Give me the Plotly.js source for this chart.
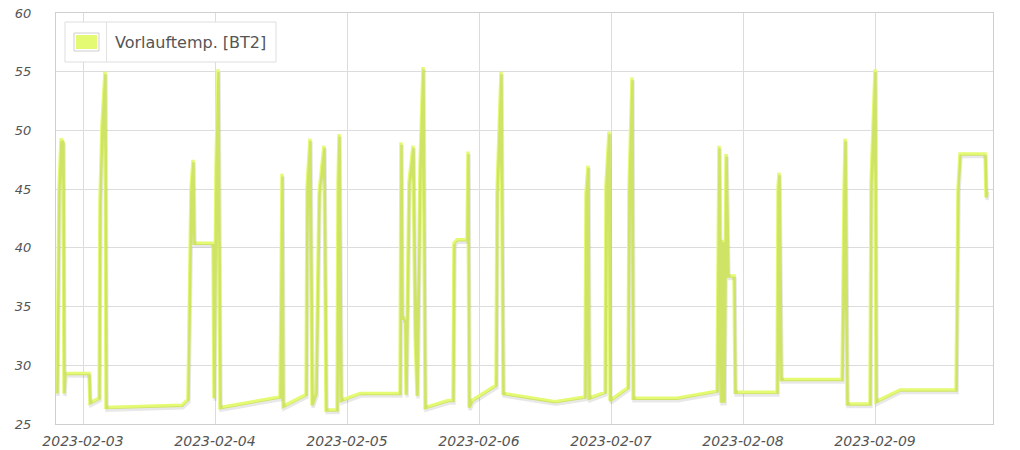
<!DOCTYPE html>
<html>
<head>
<meta charset="utf-8">
<script src="https://cdn.plot.ly/plotly-3.0.1.min.js"></script>
<style>html,body{margin:0;padding:0;background:#fff;}#chart{width:1020px;height:450px;}</style>
</head>
<body>
<div id="chart"></div>
<script>
const seriesName = "Vorlauftemp. [BT2]";
const times = [
"2023-02-02 19:16","2023-02-02 19:38","2023-02-02 20:00","2023-02-02 20:22","2023-02-02 20:33","2023-02-02 20:44",
"2023-02-03 01:05","2023-02-03 01:16","2023-02-03 02:55","2023-02-03 03:05","2023-02-03 03:27","2023-02-03 04:00",
"2023-02-03 04:11","2023-02-03 18:00","2023-02-03 19:05","2023-02-03 19:38","2023-02-03 20:00","2023-02-03 20:11",
"2023-02-03 23:38","2023-02-03 23:49","2023-02-04 00:11","2023-02-04 00:33","2023-02-04 00:55","2023-02-04 11:49",
"2023-02-04 12:00","2023-02-04 12:11","2023-02-04 12:22","2023-02-04 16:33","2023-02-04 16:44","2023-02-04 17:16",
"2023-02-04 17:38","2023-02-04 18:22","2023-02-04 18:55","2023-02-04 19:49","2023-02-04 20:11","2023-02-04 22:11",
"2023-02-04 22:22","2023-02-04 22:33","2023-02-04 22:55","2023-02-05 02:22","2023-02-05 09:38","2023-02-05 09:49",
"2023-02-05 10:00","2023-02-05 10:33","2023-02-05 10:44","2023-02-05 11:16","2023-02-05 12:00","2023-02-05 12:22",
"2023-02-05 12:44","2023-02-05 13:16","2023-02-05 13:49","2023-02-05 14:11","2023-02-05 18:22","2023-02-05 19:16",
"2023-02-05 19:27","2023-02-05 20:00","2023-02-05 21:49","2023-02-05 22:00","2023-02-05 22:11","2023-02-05 22:44",
"2023-02-06 03:05","2023-02-06 03:16","2023-02-06 04:00","2023-02-06 04:22","2023-02-06 13:49","2023-02-06 19:16",
"2023-02-06 19:27","2023-02-06 19:49","2023-02-06 20:00","2023-02-06 22:55","2023-02-06 23:05","2023-02-06 23:38",
"2023-02-06 23:49","2023-02-07 03:05","2023-02-07 03:16","2023-02-07 03:49","2023-02-07 04:00","2023-02-07 12:00",
"2023-02-07 19:16","2023-02-07 19:27","2023-02-07 19:38","2023-02-07 20:00","2023-02-07 20:22","2023-02-07 20:33",
"2023-02-07 20:55","2023-02-07 21:16","2023-02-07 22:22","2023-02-07 22:33","2023-02-08 06:11","2023-02-08 06:22",
"2023-02-08 06:33","2023-02-08 06:55","2023-02-08 18:00","2023-02-08 18:22","2023-02-08 18:33","2023-02-08 18:55",
"2023-02-08 23:05","2023-02-08 23:16","2023-02-09 00:00","2023-02-09 00:11","2023-02-09 04:33","2023-02-09 14:44",
"2023-02-09 14:55","2023-02-09 15:05","2023-02-09 15:27","2023-02-09 20:00","2023-02-09 20:11","2023-02-09 20:22"
];
const temps = [
27.6,45,49.3,49.0,27.6,29.3,
29.3,26.8,27.2,44,50.5,55.0,
26.4,26.6,27.1,45,47.5,40.4,
40.4,27.2,47,55.2,26.4,27.3,
36.7,46.3,26.5,27.5,45.2,49.3,
26.6,27.6,44.7,48.7,26.2,26.2,
45.6,49.7,27.0,27.6,27.6,49.0,
34.0,34.0,27.5,45.6,48.7,32.8,
27.4,47,55.4,26.4,27.0,27.0,
40.4,40.7,40.7,48.2,26.4,27.0,
28.3,44.7,55.0,27.6,26.9,27.3,
44.7,47.0,27.2,27.7,45.4,49.9,
27.0,28.1,45,54.5,27.2,27.2,
27.8,44.7,48.7,26.8,40.7,26.8,
48.0,37.6,37.6,27.7,27.7,45.2,
46.4,28.8,28.8,45,49.3,26.7,
26.7,45.5,55.2,26.9,27.9,27.9,
34.5,45,48.0,48.0,44.3,44.8
];
const yTicks = [25,30,35,40,45,50,55,60];
const xRange = ["2023-02-02 19:05:30","2023-02-09 21:27:00"];
const xRangeShadow = ["2023-02-02 18:54:35","2023-02-09 21:16:05"];
const yRange = [25,60];
const yRangeShadow = [25.22,60.22];

const lineColor = "#e4fa72";
const tickFont = {family:"DejaVu Sans", size:13, color:"#555", style:"italic"};

const traces = [
  {x:times, y:temps, type:"scatter", mode:"lines", xaxis:"x2", yaxis:"y2",
   line:{color:"rgba(0,0,0,0.09)", width:3.5}, hoverinfo:"skip", showlegend:false},
  {x:times, y:temps, type:"scatter", mode:"lines", name:seriesName,
   line:{color:lineColor, width:3.5}, showlegend:false}
];

const L = {x0:0.0096, x1:0.2348, y0:0.8808, y1:0.9781};
const shapes = [
  {type:"rect", xref:"paper", yref:"paper", x0:L.x0, x1:L.x1, y0:L.y0, y1:L.y1,
   fillcolor:"#fff", line:{color:"#dedede", width:1}, layer:"above"},
  {type:"line", xref:"paper", yref:"paper", x0:0.0539, x1:0.0539, y0:L.y0, y1:L.y1,
   line:{color:"#e2e2e2", width:1}, layer:"above"},
  {type:"rect", xref:"paper", yref:"paper", x0:0.0192, x1:0.0459, y0:0.9075, y1:0.9513,
   fillcolor:"#fff", line:{color:"#cfcfcf", width:1}, layer:"above"},
  {type:"rect", xref:"paper", yref:"paper", x0:0.0213, x1:0.0437, y0:0.9124, y1:0.9465,
   fillcolor:lineColor, line:{width:0}, layer:"above"}
];
const annotations = [
  {xref:"paper", yref:"paper", x:0.0608, y:0.9294, xanchor:"left", yanchor:"middle",
   text:seriesName, showarrow:false, font:{family:"DejaVu Sans", size:16, color:"#555"}}
];

const layout = {
  width:1020, height:450,
  margin:{l:56, r:27, t:13, b:26, pad:0},
  paper_bgcolor:"#fff", plot_bgcolor:"#fff",
  showlegend:false,
  xaxis:{type:"date", range:xRange, tickformat:"%Y-%m-%d", dtick:86400000, tick0:"2023-02-03",
    showgrid:true, gridcolor:"#dcdcdc", gridwidth:1, showline:true, mirror:true, linecolor:"#cfcfcf",
    zeroline:false, ticks:"outside", ticklen:4, tickcolor:"rgba(0,0,0,0)",
    tickfont:{family:"DejaVu Sans", size:14, color:"#555", style:"italic"}},
  yaxis:{range:yRange, tickvals:yTicks, showgrid:true, gridcolor:"#dcdcdc", gridwidth:1,
    showline:true, mirror:true, linecolor:"#cfcfcf", zeroline:false,
    ticks:"outside", ticklen:21, tickcolor:"rgba(0,0,0,0)", tickfont:tickFont},
  xaxis2:{type:"date", range:xRangeShadow, overlaying:"x", visible:false},
  yaxis2:{range:yRangeShadow, overlaying:"y", visible:false},
  shapes:shapes, annotations:annotations
};

Plotly.newPlot("chart", traces, layout, {displayModeBar:false, staticPlot:true});
</script>
</body>
</html>
